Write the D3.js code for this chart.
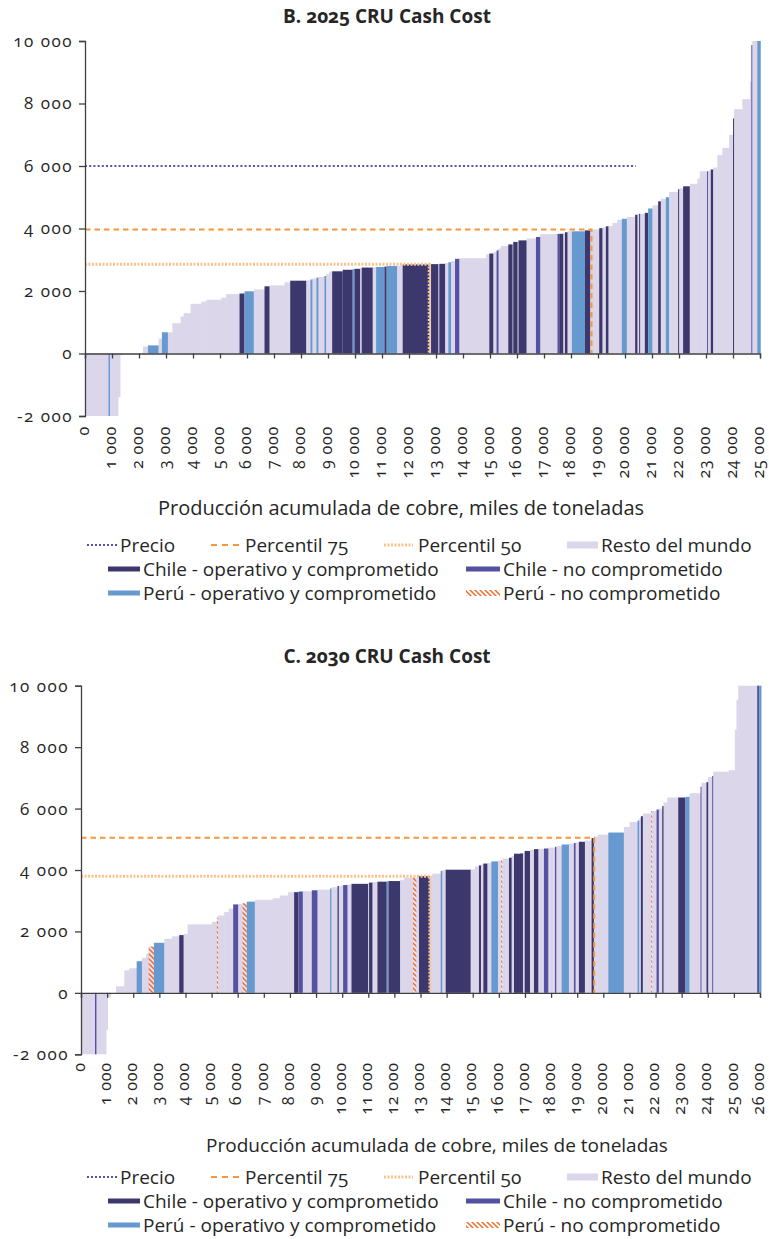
<!DOCTYPE html>
<html>
<head>
<meta charset="utf-8">
<script src="https://cdn.jsdelivr.net/npm/d3@7"></script>
<style>
  body { margin: 0; background: #fff; }
  text { font-family: "Open Sans", sans-serif; fill: #262626; font-variant-numeric: oldstyle-nums; }
</style>
</head>
<body>
<script>
// 2025: production of each mine (thousand t), cash cost (USD/t) and group
const prod2025 = [870,55,296,74,111,740,185,396,122,222,
  163,307,111,259,396,185,555,185,492,185,
  344,396,185,555,211,592,159,74,148,74,
  222,63,111,111,392,370,63,211,59,407,
  126,307,85,385,207,988,63,270,37,211,
  122,100,148,159,988,122,148,122,74,89,
  270,159,26,159,37,296,348,159,640,63,
  148,63,96,163,481,196,333,122,126,96,
  148,174,174,185,307,85,63,37,174,122,
  159,211,100,185,122,333,37,148,248,281,
  89,270,37,100,85,159,185,248,148,37,
  307,285,48,37,185,126];
const cost2025 = [-2000,-2000,-2000,-1400,-50,0,224,260,480,680,
  680,970,1185,1290,1590,1660,1720,1785,1900,1920,
  1990,2050,2150,2180,2280,2330,2340,2370,2400,2430,
  2450,2480,2540,2620,2630,2680,2700,2710,2730,2750,
  2760,2770,2780,2800,2810,2850,2855,2860,2865,2870,
  2890,2920,2960,3030,3050,3170,3200,3250,3300,3360,
  3440,3490,3520,3570,3600,3620,3680,3730,3820,3830,
  3830,3850,3880,3910,3910,3940,3970,4010,4040,4070,
  4080,4180,4280,4310,4370,4440,4460,4470,4470,4500,
  4640,4740,4870,4950,5000,5170,5260,5280,5350,5430,
  5600,5830,5830,5850,5890,5950,6350,6580,7000,7520,
  7820,8140,8700,9870,10000,10000];
// R resto del mundo, C Chile operativo, N Chile no comprometido, P Perú operativo, H Perú no comprometido
const group2025 = ["R","P","R","R","R","R","R","P","R","P",
  "R","R","R","R","R","R","R","R","R","C",
  "P","R","C","R","R","C","R","P","R","P",
  "R","P","R","R","C","C","P","C","R","C",
  "R","P","C","P","R","C","R","C","R","C",
  "R","P","R","N","R","R","C","R","N","R",
  "R","C","R","C","R","C","R","N","R","N",
  "C","R","C","R","P","C","R","C","R","C",
  "R","R","R","P","R","C","R","C","R","C",
  "P","R","C","R","P","R","C","R","C","R",
  "R","R","N","R","C","R","R","R","R","C",
  "R","R","R","N","R","P"];

// 2030
const prod2030 = [536,57,364,57,115,210,318,191,283,203,
  153,103,203,394,295,279,168,153,930,191,
  50,230,168,176,191,168,165,306,677,279,
  318,230,168,165,344,218,482,54,230,50,
  165,168,153,635,38,130,191,356,65,444,
  153,344,130,99,409,103,318,65,126,957,
  165,153,77,92,153,153,253,122,46,253,
  103,88,230,115,65,203,153,168,214,168,
  253,54,203,279,191,65,126,230,256,88,
  130,421,597,218,306,65,61,77,321,38,
  165,88,130,50,142,421,279,153,421,38,
  191,65,153,38,597,230,65,65,727,38,38,88];
const cost2030 = [-2000,-2000,-2000,-1200,-150,0,215,730,800,1030,
  1140,1270,1510,1630,1760,1840,1880,1920,2230,2310,
  2450,2520,2630,2740,2880,2900,2920,2970,3030,3080,
  3170,3280,3280,3300,3310,3340,3360,3400,3440,3480,
  3490,3510,3530,3550,3570,3590,3610,3620,3630,3640,
  3670,3750,3760,3770,3800,3820,3880,3970,4000,4010,
  4020,4120,4150,4180,4210,4230,4280,4310,4320,4370,
  4400,4450,4530,4540,4560,4620,4660,4680,4690,4700,
  4730,4750,4780,4830,4860,4880,4900,4920,4960,5040,
  5080,5150,5220,5400,5560,5610,5680,5750,5840,5920,
  5920,5970,6000,6080,6200,6360,6360,6380,6500,6710,
  6840,6860,7030,7060,7200,7250,8560,9530,10000,10000,10000,10000];
const group2030 = ["R","N","R","R","R","R","R","R","R","P",
  "R","R","H","P","R","R","C","R","R","R",
  "H","R","R","R","N","R","H","P","R","R",
  "R","R","C","N","R","N","R","P","R","C",
  "R","N","R","C","R","C","R","C","P","C",
  "R","R","H","R","C","R","R","P","R","C",
  "R","R","C","R","C","R","P","R","H","R",
  "C","R","C","C","R","C","R","C","R","N",
  "R","N","R","P","R","N","R","C","R","C",
  "R","R","P","R","R","P","R","C","R","H",
  "R","N","R","C","R","R","C","P","R","N",
  "R","C","R","N","R","R","R","R","R","N","C","P"];

// reference lines: [cumulative production, cost]
const precio2025 = [20400, 6000];
const p75_2025 = [18760, 3970];
const p50_2025 = [12750, 2860];
const p75_2030 = [19650, 5050];
const p50_2030 = [13360, 3800];

const yTicks = [-2000, 0, 2000, 4000, 6000, 8000, 10000];
const xTicks2025 = d3.range(0, 25001, 1000);
const xTicks2030 = d3.range(0, 26001, 1000);

const legendItems = ["Precio", "Percentil 75", "Percentil 50", "Resto del mundo",
  "Chile - operativo y comprometido", "Chile - no comprometido",
  "Perú - operativo y comprometido", "Perú - no comprometido"];

const color = { R: "#dbd6ea", C: "#3c386e", N: "#5551a1", P: "#6699d0", H: "url(#hatchBar)" };

const width = 769, height = 1239;
const svg = d3.select("body").append("svg").attr("width", width).attr("height", height);

const loc = d3.formatLocale({ decimal: ",", thousands: " ", grouping: [3], currency: ["", ""], minus: "-" });
const fmt = loc.format(",");

// patterns for "Perú - no comprometido"
const defs = svg.append("defs");
function hatch(id, bg) {
  const p = defs.append("pattern").attr("id", id)
    .attr("patternUnits", "userSpaceOnUse").attr("width", 5).attr("height", 5);
  if (bg) p.append("rect").attr("width", 5).attr("height", 5).attr("fill", bg);
  p.append("path").attr("d", "M0,0L5,5M-1,4L1,6M4,-1L6,1")
    .attr("stroke", "#f26b25").attr("stroke-width", 1.5);
}
hatch("hatchBar", "#e6e2f1");
hatch("hatchLeg", null);

function drawChart(c) {
  const x = d3.scaleLinear().domain([0, c.xMax]).range([c.left, c.right]);
  const y = d3.scaleLinear().domain([-2000, 10000]).range([c.bottom, c.top]);
  const ends = d3.cumsum(c.prod);
  const mines = c.prod.map((w, i) => ({ x0: ends[i] - w, x1: ends[i], cost: c.cost[i], g: c.group[i] }));
  const g = svg.append("g");

  // rest of world first, then the highlighted mines on top
  const sorted = mines.filter(d => d.g === "R").concat(mines.filter(d => d.g !== "R"));
  g.selectAll("rect.mine").data(sorted).join("rect")
    .attr("class", "mine")
    .attr("x", d => x(d.x0))
    .attr("width", d => Math.max(0.9, x(d.x1) - x(d.x0) + (d.g === "R" ? 0.5 : 0)))
    .attr("y", d => Math.min(y(d.cost), y(0)))
    .attr("height", d => Math.abs(y(d.cost) - y(0)))
    .attr("fill", d => color[d.g]);

  // percentile / price lines
  const refLine = (pt, stroke, sw, dash, vertical) => {
    const pts = vertical ? [[0, pt[1]], [pt[0], pt[1]], [pt[0], 0]] : [[0, pt[1]], [pt[0], pt[1]]];
    g.append("path")
      .attr("d", d3.line().x(d => x(d[0])).y(d => y(d[1]))(pts))
      .attr("fill", "none").attr("stroke", stroke)
      .attr("stroke-width", sw).attr("stroke-dasharray", dash);
  };
  refLine(c.p50, "#fbc38c", 3, "2,1.5", true);
  refLine(c.p75, "#f7963a", 2, "5.5,4", true);
  if (c.precio) refLine(c.precio, "#5753a8", 2, "2,2.2", false);

  // y axis
  const ya = g.append("g").attr("transform", `translate(${c.left},0)`)
    .call(d3.axisLeft(y).tickValues(yTicks).tickFormat(fmt).tickSize(6).tickPadding(6));
  ya.selectAll("text").style("font-size", "17px").style("letter-spacing", "1.5px").attr("fill", "#262626");
  ya.selectAll("line,path").attr("stroke", "#404040").attr("stroke-width", 1.3);

  // x axis at zero
  const xa = g.append("g").attr("transform", `translate(0,${y(0)})`)
    .call(d3.axisBottom(x).tickValues(c.xTicks).tickFormat("").tickSizeOuter(0).tickSize(5));
  xa.selectAll("line,path").attr("stroke", "#404040").attr("stroke-width", 1.3);

  // x tick labels, low position, rotated
  const xl = g.append("g").attr("transform", `translate(0,${y(-2000) + c.labelGap})`)
    .call(d3.axisBottom(x).tickValues(c.xTicks).tickFormat(fmt).tickSize(0));
  xl.select(".domain").remove();
  xl.selectAll("text")
    .attr("transform", "rotate(-90)").attr("text-anchor", "end")
    .attr("x", 0).attr("y", 0).attr("dy", "0.2em")
    .style("font-size", "16px").style("letter-spacing", "0.8px").attr("fill", "#262626");

  svg.append("text").attr("x", c.titleX).attr("y", c.titleY).attr("text-anchor", "middle")
    .style("font-size", "19px").style("font-weight", "bold").text(c.title);
  svg.append("text").attr("x", c.axisTitleX).attr("y", c.axisTitleY).attr("text-anchor", "middle")
    .style("font-size", c.axisTitleSize).text("Producción acumulada de cobre, miles de toneladas");

  drawLegend(c.legendY);
}

function drawLegend(ly) {
  const lg = svg.append("g").style("font-size", "19px");
  const rows = [ly, ly + 24, ly + 48];
  const lineSample = (x0, x1, yy, stroke, sw, dash) => lg.append("line")
    .attr("x1", x0).attr("x2", x1).attr("y1", yy).attr("y2", yy)
    .attr("stroke", stroke).attr("stroke-width", sw).attr("stroke-dasharray", dash);
  const boxSample = (x0, x1, yy, fill, h) => lg.append("rect")
    .attr("x", x0).attr("y", yy - h / 2).attr("width", x1 - x0).attr("height", h).attr("fill", fill);
  const label = (x0, yy, t) => lg.append("text").attr("x", x0).attr("y", yy).attr("dy", "0.35em").text(t);

  lineSample(87, 117, rows[0], "#5753a8", 2, "2,2"); label(120, rows[0], legendItems[0]);
  lineSample(211, 240, rows[0], "#f7963a", 2, "6,5"); label(245, rows[0], legendItems[1]);
  lineSample(384, 413, rows[0], "#fbc38c", 3, "2,1.5"); label(418, rows[0], legendItems[2]);
  boxSample(567, 598, rows[0], color.R, 7); label(601, rows[0], legendItems[3]);
  boxSample(108, 140, rows[1], color.C, 5); label(143, rows[1], legendItems[4]);
  boxSample(466, 500, rows[1], color.N, 5); label(503, rows[1], legendItems[5]);
  boxSample(108, 140, rows[2], color.P, 5); label(143, rows[2], legendItems[6]);
  boxSample(466, 500, rows[2], "url(#hatchLeg)", 6); label(503, rows[2], legendItems[7]);
}

drawChart({
  title: "B. 2025 CRU Cash Cost", titleX: 387, titleY: 23,
  prod: prod2025, cost: cost2025, group: group2025,
  xMax: 25000, xTicks: xTicks2025,
  left: 85, right: 760, top: 41, bottom: 416, labelGap: 10,
  precio: precio2025, p75: p75_2025, p50: p50_2025,
  axisTitleX: 401, axisTitleY: 515, axisTitleSize: "20px", legendY: 545
});

drawChart({
  title: "C. 2030 CRU Cash Cost", titleX: 387, titleY: 663,
  prod: prod2030, cost: cost2030, group: group2030,
  xMax: 26000, xTicks: xTicks2030,
  left: 81, right: 760, top: 685.7, bottom: 1054.3, labelGap: 8,
  precio: null, p75: p75_2030, p50: p50_2030,
  axisTitleX: 437, axisTitleY: 1152, axisTitleSize: "19px", legendY: 1177
});
</script>
</body>
</html>
